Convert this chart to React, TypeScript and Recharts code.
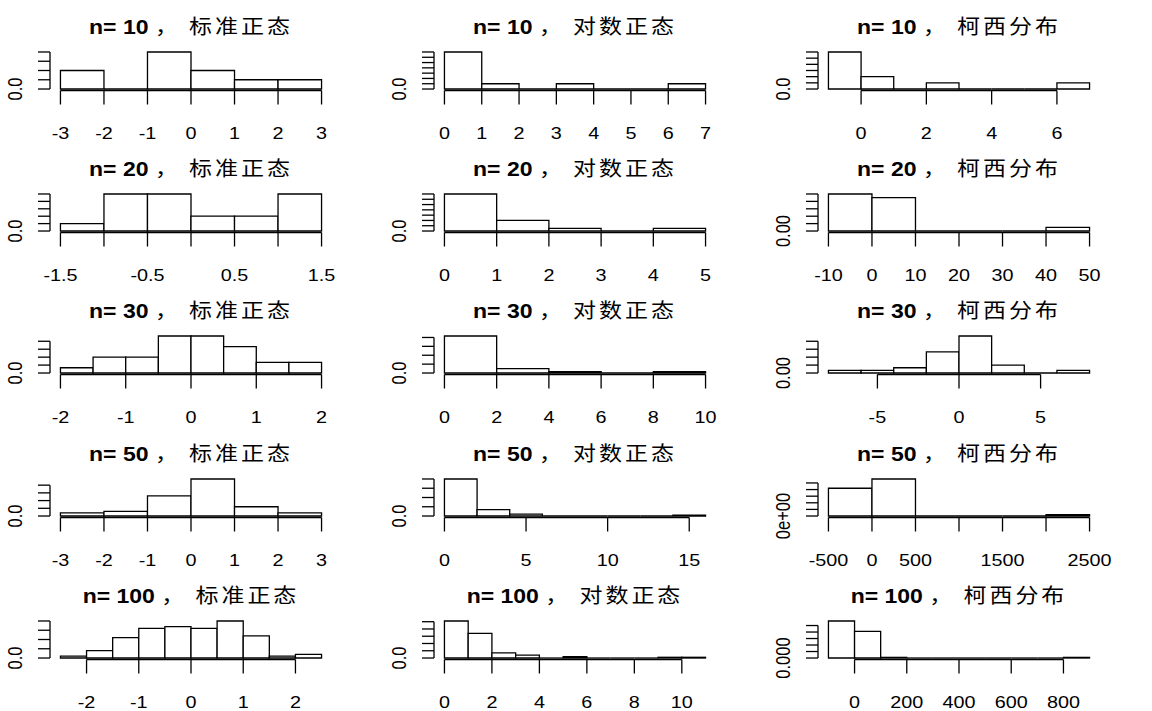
import React from "react";
import {
  ComposedChart,
  XAxis,
  YAxis,
  Line,
  ReferenceArea,
  ReferenceLine
} from "recharts";

const FONT = '"Liberation Sans", Arial, sans-serif';
const CJK = '"Noto Sans CJK SC", sans-serif';

const sampleSizes = [10, 20, 30, 50, 100];
const distNames = ["标准正态", "对数正态", "柯西分布"];

// n = 10
const norm10Breaks = [-3, -2, -1, 0, 1, 2, 3];
const norm10Dens = [0.2, 0, 0.4, 0.2, 0.1, 0.1];
const norm10XTicks = [-3, -2, -1, 0, 1, 2, 3];
const norm10YTicks = [0, 0.1, 0.2, 0.3, 0.4];

const lnorm10Breaks = [0, 1, 2, 3, 4, 5, 6, 7];
const lnorm10Dens = [0.7, 0.1, 0, 0.1, 0, 0, 0.1];
const lnorm10XTicks = [0, 1, 2, 3, 4, 5, 6, 7];
const lnorm10YTicks = [0, 0.1, 0.2, 0.3, 0.4, 0.5, 0.6, 0.7];

const cauchy10Breaks = [-1, 0, 1, 2, 3, 4, 5, 6, 7];
const cauchy10Dens = [0.6, 0.2, 0, 0.1, 0, 0, 0, 0.1];
const cauchy10XTicks = [0, 2, 4, 6];
const cauchy10YTicks = [0, 0.1, 0.2, 0.3, 0.4, 0.5, 0.6];

// n = 20
const norm20Breaks = [-1.5, -1, -0.5, 0, 0.5, 1, 1.5];
const norm20Dens = [0.1, 0.5, 0.5, 0.2, 0.2, 0.5];
const norm20XTicks = [-1.5, -1, -0.5, 0, 0.5, 1, 1.5];
const norm20XLabels = [-1.5, -0.5, 0.5, 1.5];
const norm20YTicks = [0, 0.1, 0.2, 0.3, 0.4, 0.5];

const lnorm20Breaks = [0, 1, 2, 3, 4, 5];
const lnorm20Dens = [0.7, 0.2, 0.05, 0, 0.05];
const lnorm20XTicks = [0, 1, 2, 3, 4, 5];
const lnorm20YTicks = [0, 0.1, 0.2, 0.3, 0.4, 0.5, 0.6, 0.7];

const cauchy20Breaks = [-10, 0, 10, 20, 30, 40, 50];
const cauchy20Dens = [0.05, 0.045, 0, 0, 0, 0.005];
const cauchy20XTicks = [-10, 0, 10, 20, 30, 40, 50];
const cauchy20YTicks = [0, 0.01, 0.02, 0.03, 0.04, 0.05];

// n = 30
const norm30Breaks = [-2, -1.5, -1, -0.5, 0, 0.5, 1, 1.5, 2];
const norm30Dens = [0.0667, 0.2, 0.2, 0.4667, 0.4667, 0.3333, 0.1333, 0.1333];
const norm30XTicks = [-2, -1, 0, 1, 2];
const norm30YTicks = [0, 0.1, 0.2, 0.3, 0.4];

const lnorm30Breaks = [0, 2, 4, 6, 8, 10];
const lnorm30Dens = [0.4167, 0.05, 0.0167, 0, 0.0167];
const lnorm30XTicks = [0, 2, 4, 6, 8, 10];
const lnorm30YTicks = [0, 0.1, 0.2, 0.3, 0.4];

const cauchy30Breaks = [-8, -6, -4, -2, 0, 2, 4, 6, 8];
const cauchy30Dens = [0.0167, 0.0167, 0.0333, 0.1333, 0.2333, 0.05, 0, 0.0167];
const cauchy30XTicks = [-5, 0, 5];
const cauchy30YTicks = [0, 0.05, 0.1, 0.15, 0.2];

// n = 50
const norm50Breaks = [-3, -2, -1, 0, 1, 2, 3];
const norm50Dens = [0.04, 0.06, 0.26, 0.48, 0.12, 0.04];
const norm50XTicks = [-3, -2, -1, 0, 1, 2, 3];
const norm50YTicks = [0, 0.1, 0.2, 0.3, 0.4];

const lnorm50Breaks = [0, 2, 4, 6, 8, 10, 12, 14, 16];
const lnorm50Dens = [0.4, 0.07, 0.02, 0, 0, 0, 0, 0.01];
const lnorm50XTicks = [0, 5, 10, 15];
const lnorm50YTicks = [0, 0.1, 0.2, 0.3, 0.4];

const cauchy50Breaks = [-500, 0, 500, 1000, 1500, 2000, 2500];
const cauchy50Dens = [0.00084, 0.00112, 0, 0, 0, 0.00004];
const cauchy50XTicks = [-500, 0, 500, 1000, 1500, 2000, 2500];
const cauchy50XLabels = [-500, 0, 500, 1500, 2500];
const cauchy50YTicks = [0, 0.0002, 0.0004, 0.0006, 0.0008, 0.001];

// n = 100
const norm100Breaks = [-2.5, -2, -1.5, -1, -0.5, 0, 0.5, 1, 1.5, 2, 2.5];
const norm100Dens = [0.02, 0.08, 0.22, 0.32, 0.34, 0.32, 0.4, 0.24, 0.02, 0.04];
const norm100XTicks = [-2, -1, 0, 1, 2];
const norm100YTicks = [0, 0.1, 0.2, 0.3, 0.4];

const lnorm100Breaks = [0, 1, 2, 3, 4, 5, 6, 7, 8, 9, 10, 11];
const lnorm100Dens = [0.51, 0.34, 0.07, 0.04, 0, 0.02, 0, 0, 0, 0.01, 0.01];
const lnorm100XTicks = [0, 2, 4, 6, 8, 10];
const lnorm100YTicks = [0, 0.1, 0.2, 0.3, 0.4, 0.5];

const cauchy100Breaks = [-100, 0, 100, 200, 300, 400, 500, 600, 700, 800, 900];
const cauchy100Dens = [0.0057, 0.0041, 0.0001, 0, 0, 0, 0, 0, 0, 0.0001];
const cauchy100XTicks = [0, 200, 400, 600, 800];
const cauchy100YTicks = [0, 0.001, 0.002, 0.003, 0.004, 0.005];

const yLabels = [
  ["0.0", "0.0", "0.0"],
  ["0.0", "0.0", "0.00"],
  ["0.0", "0.0", "0.00"],
  ["0.0", "0.0", "0e+00"],
  ["0.0", "0.0", "0.000"]
];

type Panel = {
  breaks: number[];
  dens: number[];
  xTicks: number[];
  xLabels?: number[];
  yTicks: number[];
};

const panels: Panel[][] = [
  [
    { breaks: norm10Breaks, dens: norm10Dens, xTicks: norm10XTicks, yTicks: norm10YTicks },
    { breaks: lnorm10Breaks, dens: lnorm10Dens, xTicks: lnorm10XTicks, yTicks: lnorm10YTicks },
    { breaks: cauchy10Breaks, dens: cauchy10Dens, xTicks: cauchy10XTicks, yTicks: cauchy10YTicks }
  ],
  [
    { breaks: norm20Breaks, dens: norm20Dens, xTicks: norm20XTicks, xLabels: norm20XLabels, yTicks: norm20YTicks },
    { breaks: lnorm20Breaks, dens: lnorm20Dens, xTicks: lnorm20XTicks, yTicks: lnorm20YTicks },
    { breaks: cauchy20Breaks, dens: cauchy20Dens, xTicks: cauchy20XTicks, yTicks: cauchy20YTicks }
  ],
  [
    { breaks: norm30Breaks, dens: norm30Dens, xTicks: norm30XTicks, yTicks: norm30YTicks },
    { breaks: lnorm30Breaks, dens: lnorm30Dens, xTicks: lnorm30XTicks, yTicks: lnorm30YTicks },
    { breaks: cauchy30Breaks, dens: cauchy30Dens, xTicks: cauchy30XTicks, yTicks: cauchy30YTicks }
  ],
  [
    { breaks: norm50Breaks, dens: norm50Dens, xTicks: norm50XTicks, yTicks: norm50YTicks },
    { breaks: lnorm50Breaks, dens: lnorm50Dens, xTicks: lnorm50XTicks, yTicks: lnorm50YTicks },
    { breaks: cauchy50Breaks, dens: cauchy50Dens, xTicks: cauchy50XTicks, xLabels: cauchy50XLabels, yTicks: cauchy50YTicks }
  ],
  [
    { breaks: norm100Breaks, dens: norm100Dens, xTicks: norm100XTicks, yTicks: norm100YTicks },
    { breaks: lnorm100Breaks, dens: lnorm100Dens, xTicks: lnorm100XTicks, yTicks: lnorm100YTicks },
    { breaks: cauchy100Breaks, dens: cauchy100Dens, xTicks: cauchy100XTicks, yTicks: cauchy100YTicks }
  ]
];

const W = 384;
const H = 142;
const SW = 1.3; // line width
const SX = 1.2; // the text in the source is a bit wider than tall

function Hist({ p, yLabel }: { p: Panel; yLabel: string }) {
  const lo = p.breaks[0];
  const hi = p.breaks[p.breaks.length - 1];
  const xPad = (hi - lo) * 0.04;
  const top = Math.max(...p.dens);
  const yPad = top * 0.04;
  const rows = p.dens.map((d, i) => ({
    mid: (p.breaks[i] + p.breaks[i + 1]) / 2,
    d,
    x1: p.breaks[i],
    x2: p.breaks[i + 1]
  }));
  const shown = p.xLabels || p.xTicks;
  const yTop = p.yTicks[p.yTicks.length - 1];

  return (
    <ComposedChart
      width={W}
      height={H}
      data={rows}
      margin={{ top: 50.5, right: 52, left: 0, bottom: 0 }}
    >
      <XAxis
        type="number"
        dataKey="mid"
        domain={[lo - xPad, hi + xPad]}
        allowDataOverflow
        ticks={p.xTicks}
        interval={0}
        height={51.5}
        axisLine={false}
        tickLine={{ stroke: "#000", strokeWidth: SW }}
        tickSize={14}
        tickMargin={2}
        tick={(props: any) => (
          <text
            transform={`translate(${props.x},${props.y + 32}) scale(${SX},1)`}
            textAnchor="middle"
            fontSize={16.5}
            fontFamily={FONT}
            fill="#000"
          >
            {shown.includes(props.payload.value) ? String(props.payload.value) : ""}
          </text>
        )}
      />
      <YAxis
        type="number"
        domain={[-yPad, top + yPad]}
        allowDataOverflow
        ticks={p.yTicks}
        interval={0}
        width={50}
        axisLine={false}
        tickLine={{ stroke: "#000", strokeWidth: SW }}
        tickSize={12}
        tickMargin={2}
        tick={(props: any) => (
          <text
            transform={`translate(22,${props.y}) scale(${SX},1) rotate(-90)`}
            textAnchor="middle"
            fontSize={16.5}
            fontFamily={FONT}
            fill="#000"
          >
            {props.payload.value === 0 ? yLabel : ""}
          </text>
        )}
      />
      <Line
        dataKey="d"
        stroke="none"
        dot={false}
        activeDot={false}
        isAnimationActive={false}
      />
      {rows.map((r, i) =>
        r.d > 0 ? (
          <ReferenceArea
            key={"a" + i}
            x1={r.x1}
            x2={r.x2}
            y1={0}
            y2={r.d}
            fill="#fff"
            fillOpacity={1}
            stroke="#000"
            strokeWidth={SW}
            ifOverflow="visible"
          />
        ) : (
          <ReferenceLine
            key={"z" + i}
            segment={[{ x: r.x1, y: 0 }, { x: r.x2, y: 0 }]}
            stroke="#000"
            strokeWidth={SW}
            ifOverflow="visible"
          />
        )
      )}
      <ReferenceLine
        segment={[
          { x: p.xTicks[0], y: -yPad },
          { x: p.xTicks[p.xTicks.length - 1], y: -yPad }
        ]}
        stroke="#000"
        strokeWidth={SW}
        ifOverflow="visible"
      />
      <ReferenceLine
        segment={[
          { x: lo - xPad, y: 0 },
          { x: lo - xPad, y: yTop }
        ]}
        stroke="#000"
        strokeWidth={SW}
        ifOverflow="visible"
      />
    </ComposedChart>
  );
}

export default function App() {
  return (
    <div
      style={{
        position: "absolute",
        left: 0,
        top: 0,
        width: 1152,
        height: 711,
        background: "#fff"
      }}
    >
      {panels.map((row, r) =>
        row.map((p, c) => (
          <div
            key={r + "-" + c}
            style={{
              position: "absolute",
              left: c * W,
              top: Math.round(r * 142.2),
              width: W,
              height: H
            }}
          >
            <Hist p={p} yLabel={yLabels[r][c]} />
            <svg
              width={W}
              height={H}
              style={{ position: "absolute", left: 0, top: 0, pointerEvents: "none" }}
            >
              <text
                transform={`translate(191,34) scale(1.15,1)`}
                textAnchor="middle"
                fontSize={20}
                fill="#000"
                style={{ whiteSpace: "pre" }}
              >
                <tspan fontFamily={FONT} fontWeight="bold">
                  {`n= ${sampleSizes[r]} `}
                </tspan>
                <tspan fontFamily={CJK} letterSpacing={2.6}>
                  {`， ${distNames[c]}`}
                </tspan>
              </text>
            </svg>
          </div>
        ))
      )}
    </div>
  );
}
